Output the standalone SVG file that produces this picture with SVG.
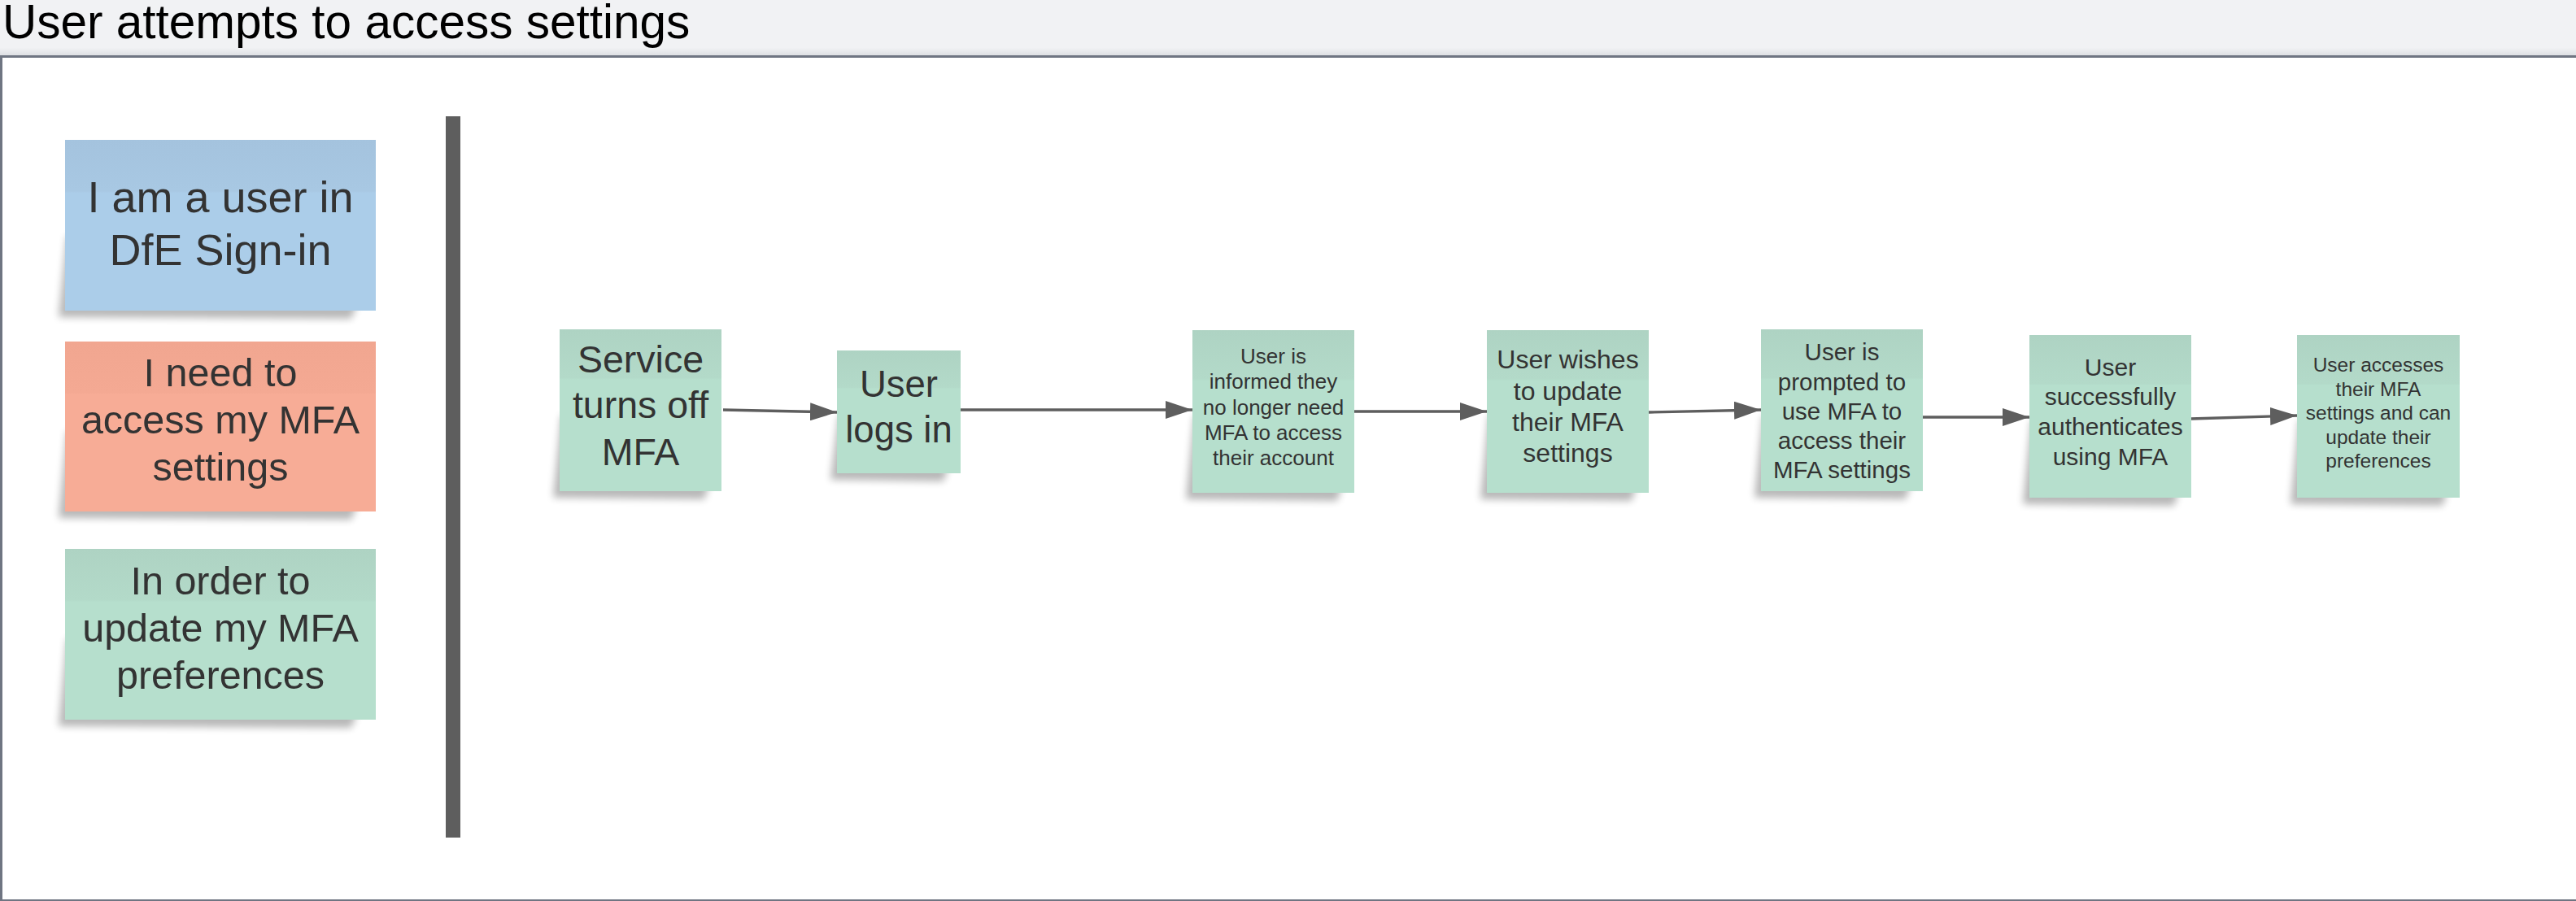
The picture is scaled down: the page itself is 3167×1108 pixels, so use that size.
<svg xmlns="http://www.w3.org/2000/svg" width="3167" height="1108" viewBox="0 0 3167 1108">
<style>
.t{font-family:"Liberation Sans",Arial,sans-serif;fill:#333333;text-anchor:middle}
.title{font-family:"Liberation Sans",Arial,sans-serif;fill:#000000;font-size:58.5px}
.edge{fill:none;stroke:#5e5e5e;stroke-width:3.4;marker-end:url(#ah)}
.sh{fill:#000;opacity:0.28;filter:url(#blur)}
</style>
<defs>
<linearGradient id="gBlue" x1="0" y1="0" x2="0" y2="1">
<stop offset="0" stop-color="#a4c3de"/><stop offset="0.3" stop-color="#a8c8e3"/><stop offset="0.31" stop-color="#abcde9"/><stop offset="1" stop-color="#abcde9"/>
</linearGradient>
<linearGradient id="gRed" x1="0" y1="0" x2="0" y2="1">
<stop offset="0" stop-color="#f1a690"/><stop offset="0.3" stop-color="#f4a993"/><stop offset="0.31" stop-color="#f7ac96"/><stop offset="1" stop-color="#f7ac96"/>
</linearGradient>
<linearGradient id="gGreen" x1="0" y1="0" x2="0" y2="1">
<stop offset="0" stop-color="#aed3c3"/><stop offset="0.3" stop-color="#b3dac9"/><stop offset="0.31" stop-color="#b6dfcd"/><stop offset="1" stop-color="#b6dfcd"/>
</linearGradient>
<linearGradient id="gBar" x1="0" y1="0" x2="0" y2="1">
<stop offset="0" stop-color="#f1f2f4"/><stop offset="0.85" stop-color="#f1f2f4"/><stop offset="1" stop-color="#dcdee2"/>
</linearGradient>
<filter id="blur" x="-20%" y="-20%" width="140%" height="140%"><feGaussianBlur stdDeviation="5"/></filter>
<marker id="ah" markerUnits="userSpaceOnUse" markerWidth="34" markerHeight="22" refX="33" refY="11" orient="auto">
<path d="M0,0 L33,11 L0,22 Z" fill="#5e5e5e"/>
</marker>
</defs>

<g id="frame">
<rect x="0" y="0" width="3167" height="69" fill="url(#gBar)"/>
<rect x="0" y="69" width="3167" height="1039" fill="#ffffff"/>
<rect x="0" y="68" width="3167" height="3" fill="#6f7582"/>
<rect x="0" y="68" width="3" height="1040" fill="#6f7582"/>
<rect x="0" y="1106" width="3167" height="2" fill="#6f7582"/>
<text class="title" x="3" y="47">User attempts to access settings</text>
</g>

<g id="divider">
<rect x="548" y="143" width="18" height="887" fill="#5e5e5e"/>
</g>

<g id="sticky-user">
<polygon class="sh" points="82,290 440,372 432,392 72,390"/>
<rect x="80" y="172" width="382" height="210" fill="url(#gBlue)"/>
<text class="t" font-size="54" x="271" y="261">I am a user in</text>
<text class="t" font-size="54" x="271" y="326">DfE Sign-in</text>
</g>

<g id="sticky-need">
<polygon class="sh" points="82,530 440,619 432,639 72,637"/>
<rect x="80" y="420" width="382" height="209" fill="url(#gRed)"/>
<text class="t" font-size="48.5" x="271" y="475">I need to</text>
<text class="t" font-size="48.5" x="271" y="533">access my MFA</text>
<text class="t" font-size="48.5" x="271" y="591">settings</text>
</g>

<g id="sticky-order">
<polygon class="sh" points="82,785 440,875 432,895 72,893"/>
<rect x="80" y="675" width="382" height="210" fill="url(#gGreen)"/>
<text class="t" font-size="48.5" x="271" y="731">In order to</text>
<text class="t" font-size="48.5" x="271" y="789">update my MFA</text>
<text class="t" font-size="48.5" x="271" y="847">preferences</text>
</g>

<g id="connectors">
<line class="edge" x1="889" y1="504" x2="1029" y2="507"/>
<line class="edge" x1="1181" y1="504" x2="1466" y2="504"/>
<line class="edge" x1="1665" y1="506" x2="1828" y2="506"/>
<line class="edge" x1="2027" y1="507" x2="2165" y2="504"/>
<line class="edge" x1="2364" y1="513" x2="2495" y2="513"/>
<line class="edge" x1="2693" y1="515" x2="2824" y2="511"/>
</g>

<g id="n1">
<polygon class="sh" points="690,510 872,596 866,614 680,612"/>
<rect x="688" y="405" width="199" height="199" fill="url(#gGreen)"/>
<text class="t" font-size="46.5" x="787.5" y="458">Service</text>
<text class="t" font-size="46.5" x="787.5" y="514">turns off</text>
<text class="t" font-size="46.5" x="787.5" y="572">MFA</text>
</g>

<g id="n2">
<polygon class="sh" points="1031,510 1166,574 1160,592 1021,590"/>
<rect x="1029" y="431" width="152" height="151" fill="url(#gGreen)"/>
<text class="t" font-size="45.5" x="1105" y="488">User</text>
<text class="t" font-size="45.5" x="1105" y="544">logs in</text>
</g>

<g id="n3">
<polygon class="sh" points="1468,510 1650,598 1644,616 1458,614"/>
<rect x="1466" y="406" width="199" height="200" fill="url(#gGreen)"/>
<text class="t" font-size="26" x="1565.5" y="447">User is</text>
<text class="t" font-size="26" x="1565.5" y="478">informed they</text>
<text class="t" font-size="26" x="1565.5" y="510">no longer need</text>
<text class="t" font-size="26" x="1565.5" y="541">MFA to access</text>
<text class="t" font-size="26" x="1565.5" y="572">their account</text>
</g>

<g id="n4">
<polygon class="sh" points="1830,510 2012,598 2006,616 1820,614"/>
<rect x="1828" y="406" width="199" height="200" fill="url(#gGreen)"/>
<text class="t" font-size="32" x="1927.5" y="453">User wishes</text>
<text class="t" font-size="32" x="1927.5" y="492">to update</text>
<text class="t" font-size="32" x="1927.5" y="530">their MFA</text>
<text class="t" font-size="32" x="1927.5" y="568">settings</text>
</g>

<g id="n5">
<polygon class="sh" points="2167,510 2349,596 2343,614 2157,612"/>
<rect x="2165" y="405" width="199" height="199" fill="url(#gGreen)"/>
<text class="t" font-size="29.5" x="2264.5" y="443">User is</text>
<text class="t" font-size="29.5" x="2264.5" y="480">prompted to</text>
<text class="t" font-size="29.5" x="2264.5" y="516">use MFA to</text>
<text class="t" font-size="29.5" x="2264.5" y="552">access their</text>
<text class="t" font-size="29.5" x="2264.5" y="588">MFA settings</text>
</g>

<g id="n6">
<polygon class="sh" points="2497,516 2679,604 2673,622 2487,620"/>
<rect x="2495" y="412" width="199" height="200" fill="url(#gGreen)"/>
<text class="t" font-size="30" x="2594.5" y="462">User</text>
<text class="t" font-size="30" x="2594.5" y="498">successfully</text>
<text class="t" font-size="30" x="2594.5" y="535">authenticates</text>
<text class="t" font-size="30" x="2594.5" y="572">using MFA</text>
</g>

<g id="n7">
<polygon class="sh" points="2826,516 3009,604 3003,622 2816,620"/>
<rect x="2824" y="412" width="200" height="200" fill="url(#gGreen)"/>
<text class="t" font-size="24.5" x="2924" y="457">User accesses</text>
<text class="t" font-size="24.5" x="2924" y="487">their MFA</text>
<text class="t" font-size="24.5" x="2924" y="516">settings and can</text>
<text class="t" font-size="24.5" x="2924" y="546">update their</text>
<text class="t" font-size="24.5" x="2924" y="575">preferences</text>
</g>
</svg>
